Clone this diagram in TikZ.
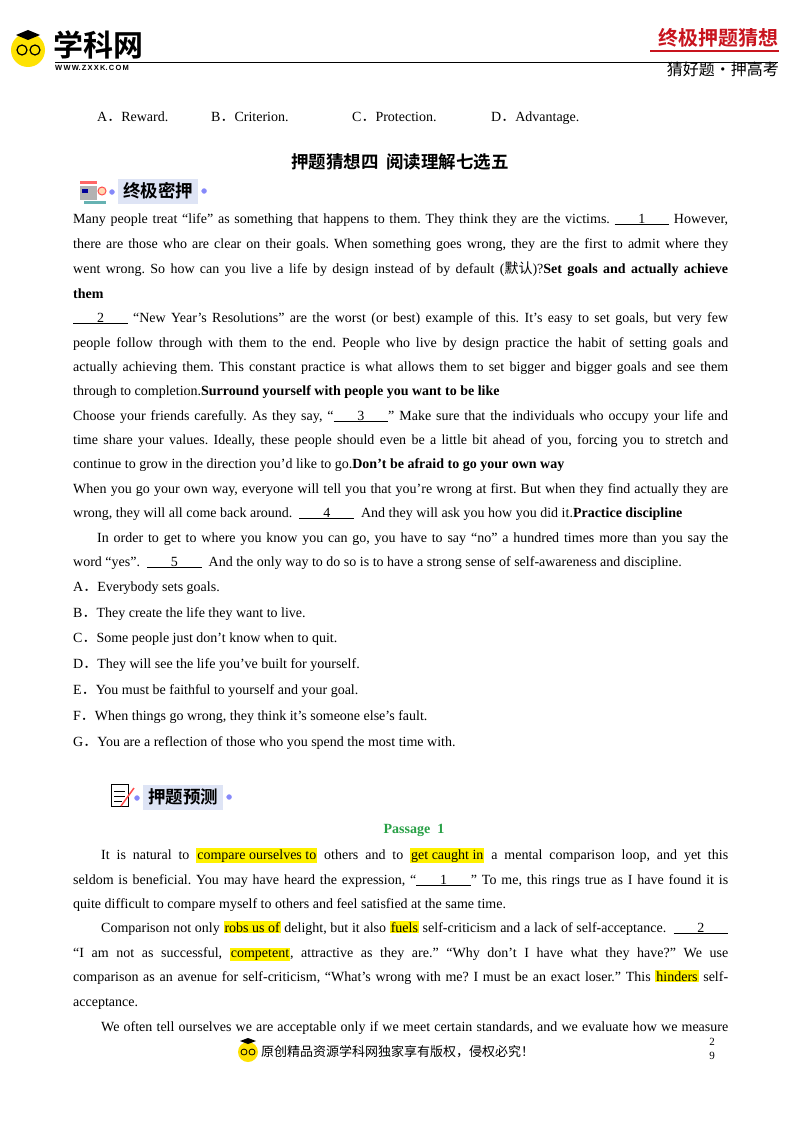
\documentclass[tikz,border=0pt]{standalone}
\usepackage{fontspec}
\setmainfont{Liberation Serif}
\newfontfamily\cjk{Noto Sans CJK SC}
\newfontfamily\cjkb{Noto Sans CJK SC Bold}
\newfontfamily\sans{Liberation Sans}
\usepackage{xcolor}
\usetikzlibrary{positioning}
\definecolor{hdred}{RGB}{200,20,30}
\definecolor{pgreen}{RGB}{40,160,70}
\definecolor{iconbg}{RGB}{222,228,245}
\newcommand{\blank}[1]{\underline{\hspace{1.7em}#1\hspace{1.7em}}}
\newcommand{\hlt}[1]{{\setlength{\fboxsep}{1pt}\colorbox{yellow}{#1}}}
\newcommand{\fd}{{\cjk ．}}
\frenchspacing
\begin{document}
\begin{tikzpicture}[x=1pt,y=-1pt,
  tx/.style={anchor=base west,inner sep=0pt,font=\fontsize{14}{15}\selectfont\frenchspacing},
  jl/.style={tx,text width=655pt,align=justify,execute at begin node={\parfillskip=0pt\relax}},
  ji/.style={tx,text width=627pt,align=justify,execute at begin node={\parfillskip=0pt\relax}},
  iconbox/.style={fill=iconbg,inner xsep=5pt,minimum height=25pt,font=\cjkb\fontsize{17.5}{18}\selectfont},
  dot/.style={circle,fill=iconbg!60!blue,draw=blue!40,inner sep=0pt,minimum size=5pt}]
\useasboundingbox (0,0) rectangle (800,1132);
\fill[white] (0,0) rectangle (800,1132);
% header
\node[circle,fill=yellow!85!orange,minimum size=34pt,inner sep=0] (face) at (28,50) {};
\draw[line width=1.2pt] (22,50) circle (5pt) (35,50) circle (5pt);
\fill (28,30) -- (40,35) -- (28,40) -- (16,35) -- cycle;
\node[anchor=west,inner sep=0,font=\cjkb\fontsize{30}{30}\selectfont] (logo) at (53,45) {学科网};
\node[anchor=west,inner sep=0,font=\sans\bfseries\fontsize{7.5}{8}\selectfont] (www) at (55,68) {W\,W\,W.\,Z\,X\,X\,K.\,C\,O\,M};
\draw[line width=0.8pt] (55,62) -- (778,62);
\node[anchor=east,inner sep=0,text=hdred,font=\cjkb\fontsize{20}{20}\selectfont] (hd) at (779,38) {终极押题猜想};
\draw[hdred,line width=1.2pt] (650,51) -- (779,51);
\node[anchor=east,inner sep=0,font=\cjk\fontsize{16}{16}\selectfont] (hd2) at (779,69) {猜好题·押高考};
% options line
\node[tx] (oa) at (97,121) {A\fd Reward.};
\node[tx] (ob) at (211,121) {B\fd Criterion.};
\node[tx] (oc) at (352,121) {C\fd Protection.};
\node[tx] (od) at (491,121) {D\fd Advantage.};
% title
\node[inner sep=0,font=\cjkb\fontsize{17.5}{18}\selectfont] (title) at (400,162) {押题猜想四\ \ 阅读理解七选五};
% icon 1
\fill[red!60] (80,181) rectangle (97,184);
\fill[gray!60] (80,186) rectangle (97,200);
\fill[blue!60!black] (82,189) rectangle (88,193);
\fill[teal!60] (84,201) rectangle (106,204);
\draw[red!70,fill=orange!30,line width=1pt] (102,191) circle (4pt);
\node[iconbox,anchor=west] (ic1) at (118,191) {终极密押};
\node[dot] (d1a) at (112,192) {};
\node[dot,right=3pt of ic1] (d1b) {};
% paragraph
\node[jl] (l1) at (73,223) {Many people treat “life” as something that happens to them. They think they are the victims. \blank{1} However,};
\node[jl] (l2) at (73,248) {there are those who are clear on their goals. When something goes wrong, they are the first to admit where they};
\node[jl] (l3) at (73,273) {went wrong. So how can you live a life by design instead of by default ({\cjk 默认})?\textbf{Set goals and actually achieve}};
\node[tx] (l4) at (73,298) {\textbf{them}};
\node[jl] (l5) at (73,322) {\blank{2} “New Year’s Resolutions” are the worst (or best) example of this. It’s easy to set goals, but very few};
\node[jl] (l6) at (73,347) {people follow through with them to the end. People who live by design practice the habit of setting goals and};
\node[jl] (l7) at (73,371) {actually achieving them. This constant practice is what allows them to set bigger and bigger goals and see them};
\node[tx] (l8) at (73,395) {through to completion.\textbf{Surround yourself with people you want to be like}};
\node[jl] (l9) at (73,420) {Choose your friends carefully. As they say, “\blank{3}” Make sure that the individuals who occupy your life and};
\node[jl] (l10) at (73,444) {time share your values. Ideally, these people should even be a little bit ahead of you, forcing you to stretch and};
\node[tx] (l11) at (73,468) {continue to grow in the direction you’d like to go.\textbf{Don’t be afraid to go your own way}};
\node[jl] (l12) at (73,493) {When you go your own way, everyone will tell you that you’re wrong at first. But when they find actually they are};
\node[tx] (l13) at (73,517) {wrong, they will all come back around. \ \blank{4} \ And they will ask you how you did it.\textbf{Practice discipline}};
\node[tx,text width=631pt,align=justify,execute at begin node={\parfillskip=0pt\relax}] (l14) at (97,542) {In order to get to where you know you can go, you have to say “no” a hundred times more than you say the};
\node[tx] (l15) at (73,566) {word “yes”. \ \blank{5} \ And the only way to do so is to have a strong sense of self-awareness and discipline.};
\node[tx] (ga) at (73,591) {A\fd Everybody sets goals.};
\node[tx] (gb) at (73,617) {B\fd They create the life they want to live.};
\node[tx] (gc) at (73,642) {C\fd Some people just don’t know when to quit.};
\node[tx] (gd) at (73,668) {D\fd They will see the life you’ve built for yourself.};
\node[tx] (ge) at (73,694) {E\fd You must be faithful to yourself and your goal.};
\node[tx] (gf) at (73,720) {F\fd When things go wrong, they think it’s someone else’s fault.};
\node[tx] (gg) at (73,746) {G\fd You are a reflection of those who you spend the most time with.};
% icon 2
\draw[line width=1pt] (111,784) rectangle (128,806);
\draw[line width=0.8pt] (114,791) -- (125,791) (114,796) -- (125,796) (114,801) -- (122,801);
\draw[red!70,line width=1.5pt] (121,806) -- (134,788);
\node[iconbox,anchor=west] (ic2) at (143,797) {押题预测};
\node[dot] (d2a) at (137,798) {};
\node[dot,right=3pt of ic2] (d2b) {};
% passage
\node[inner sep=0,text=pgreen,font=\bfseries\fontsize{14}{15}\selectfont] (pt) at (414,830) {Passage\ \ 1};
\node[ji] (p1) at (101,859) {It is natural to \hlt{compare ourselves to} others and to \hlt{get caught in} a mental comparison loop, and yet this};
\node[jl] (p2) at (73,884) {seldom is beneficial. You may have heard the expression, “\blank{1}” To me, this rings true as I have found it is};
\node[tx] (p3) at (73,908) {quite difficult to compare myself to others and feel satisfied at the same time.};
\node[ji] (p4) at (101,932) {Comparison not only \hlt{robs us of} delight, but it also \hlt{fuels} self-criticism and a lack of self-acceptance. \ \blank{2}};
\node[jl] (p5) at (73,957) {“I am not as successful, \hlt{competent}, attractive as they are.” “Why don’t I have what they have?” We use};
\node[jl] (p6) at (73,981) {comparison as an avenue for self-criticism, “What’s wrong with me? I must be an exact loser.” This \hlt{hinders} self-};
\node[tx] (p7) at (73,1006) {acceptance.};
\node[ji] (p8) at (101,1031) {We often tell ourselves we are acceptable only if we meet certain standards, and we evaluate how we measure};
% footer
\node[circle,fill=yellow!85!orange,minimum size=20pt,inner sep=0] (fface) at (248,1052) {};
\draw[line width=0.8pt] (244,1052) circle (3pt) (252,1052) circle (3pt);
\fill (248,1038) -- (256,1041) -- (248,1044) -- (240,1041) -- cycle;
\node[anchor=west,inner sep=0,font=\cjk\fontsize{13}{13}\selectfont] (foot) at (261,1052) {原创精品资源学科网独家享有版权，侵权必究！};
\node[inner sep=0,font=\fontsize{11}{12}\selectfont] (pn1) at (712,1042) {2};
\node[inner sep=0,font=\fontsize{11}{12}\selectfont] (pn2) at (712,1056) {9};
\end{tikzpicture}
\end{document}
